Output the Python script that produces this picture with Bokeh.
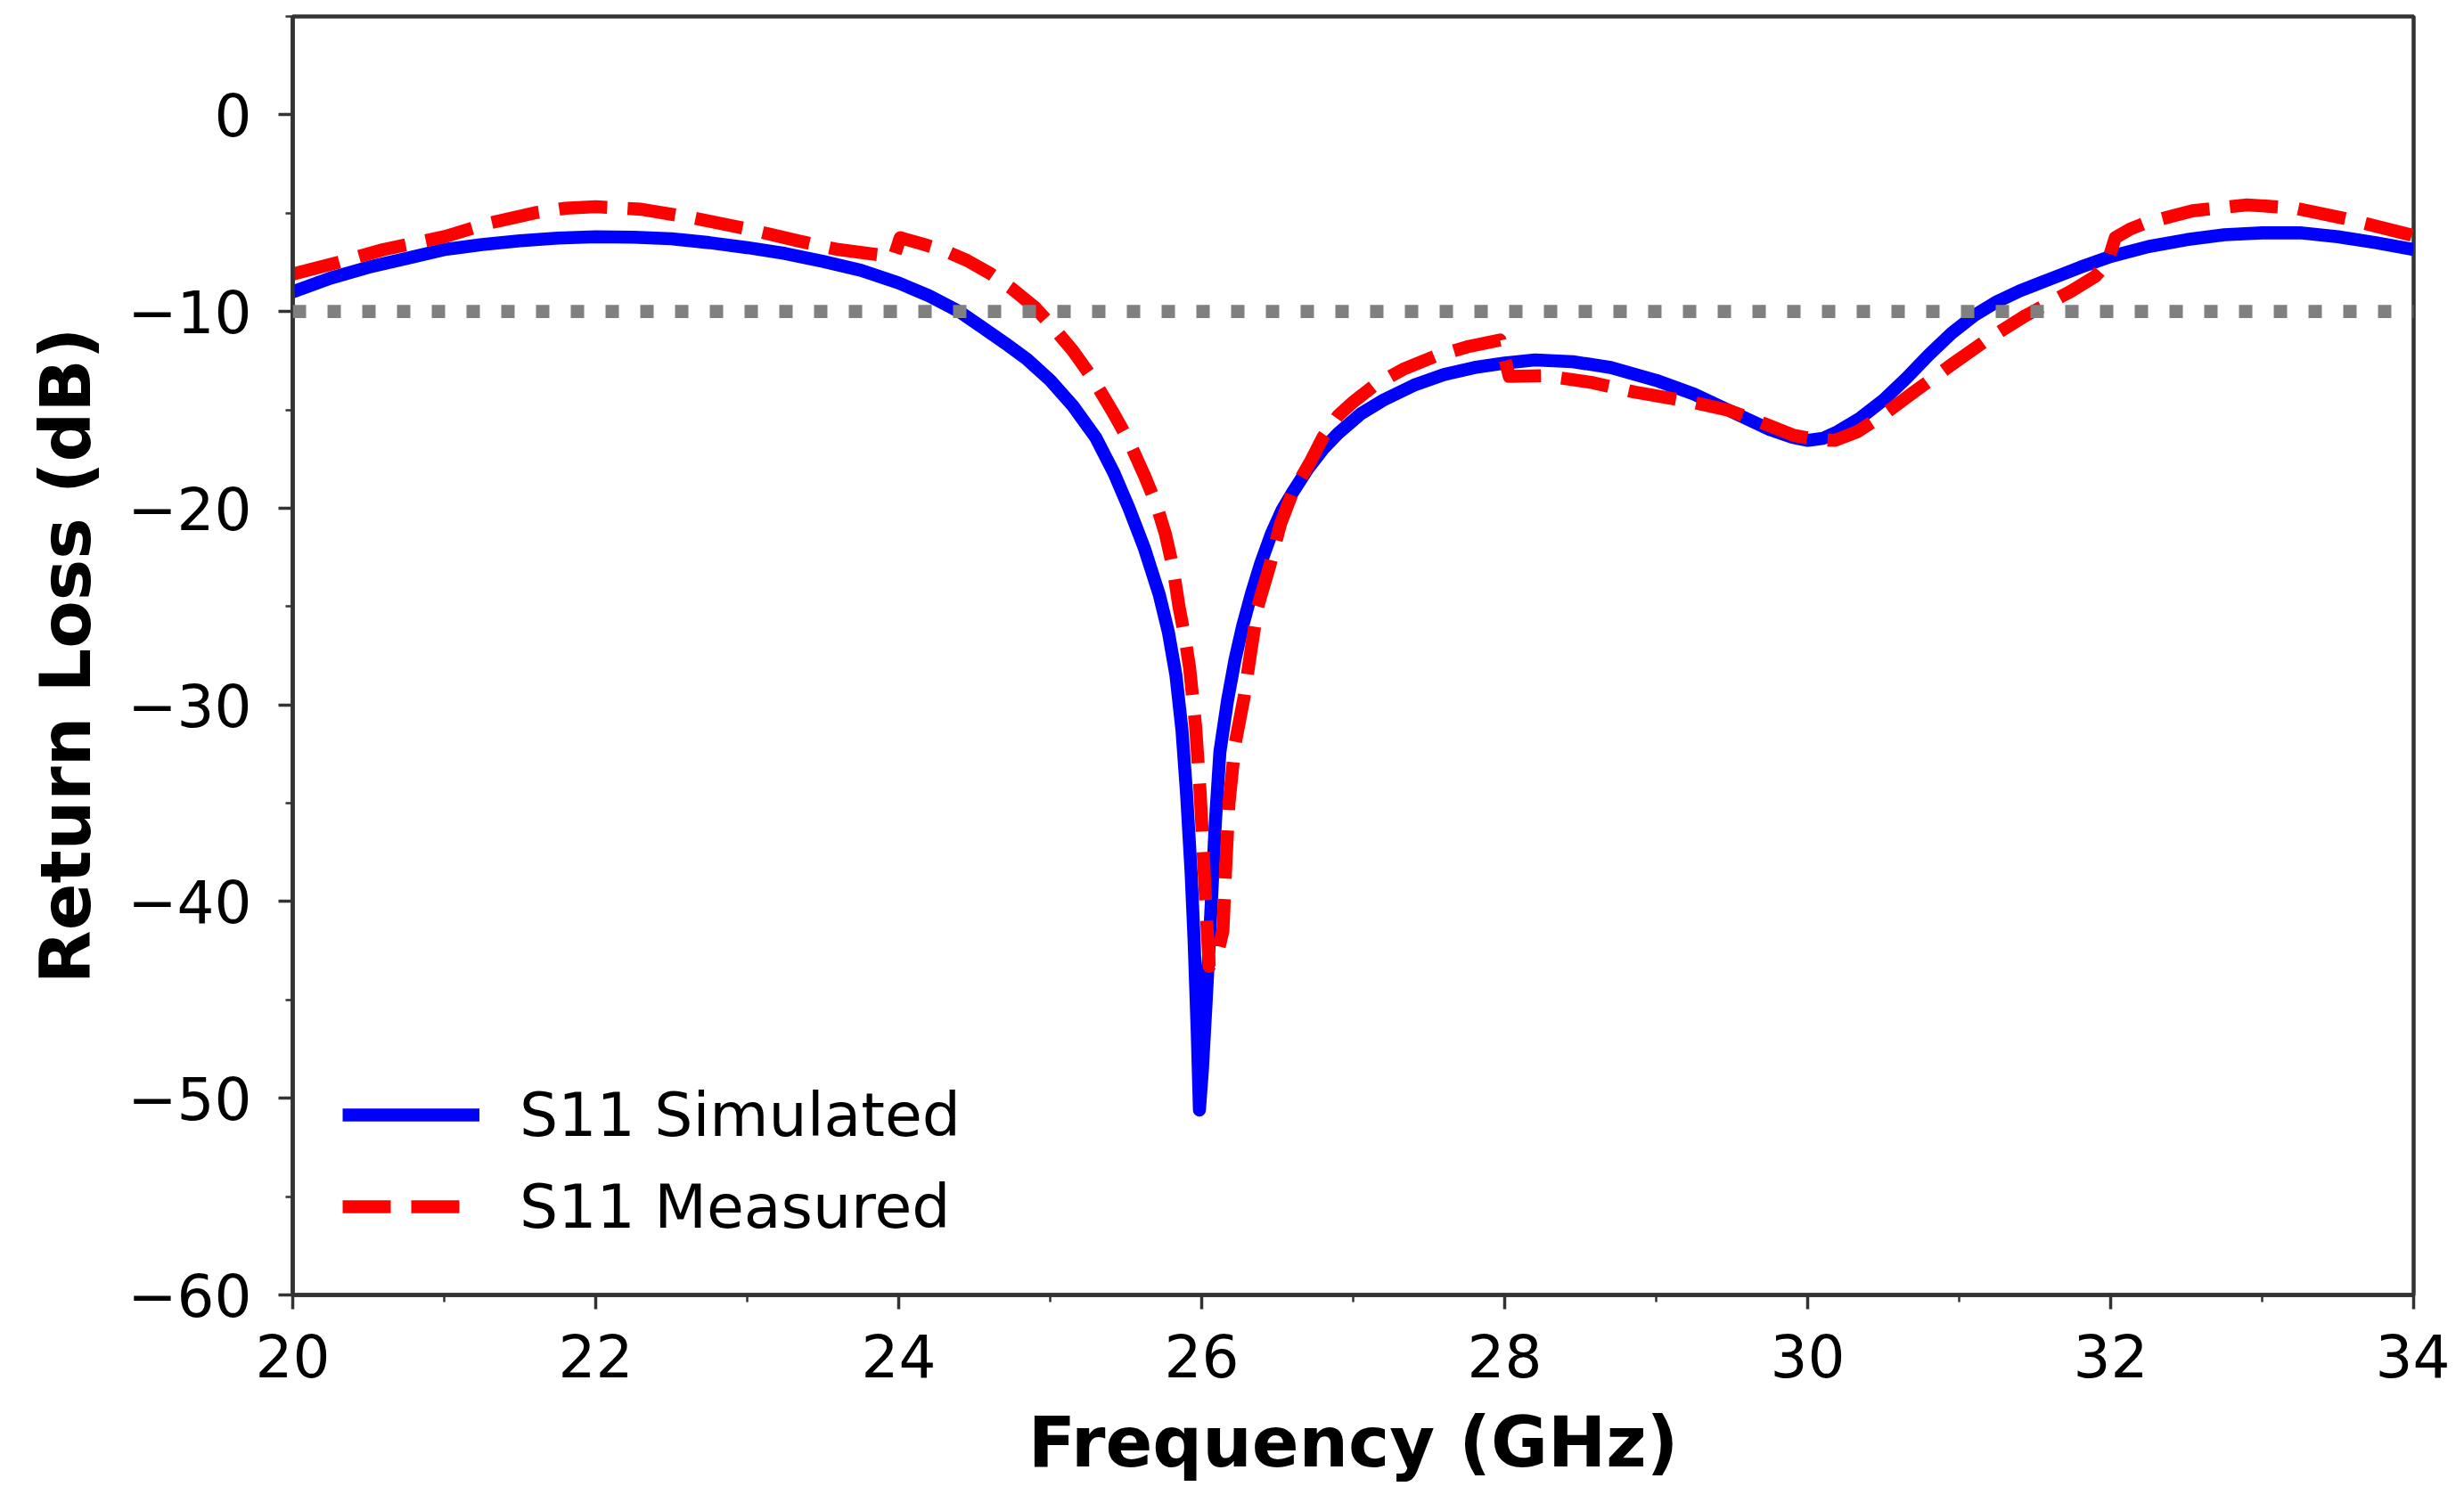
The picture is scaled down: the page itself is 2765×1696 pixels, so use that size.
from bokeh.plotting import figure
from bokeh.models import Range1d, FixedTicker, Legend, LegendItem, Span
from bokeh.embed import file_html
from bokeh.resources import INLINE

# ---------------- data ----------------
sim_freq = [20.0, 20.25, 20.5, 20.75, 21.0, 21.25, 21.5, 21.75, 22.0, 22.25,
            22.5, 22.75, 23.0, 23.25, 23.5, 23.75, 24.0, 24.2, 24.4, 24.55,
            24.7, 24.85, 25.0, 25.15, 25.3, 25.42, 25.52, 25.62, 25.72, 25.78,
            25.83, 25.87, 25.9, 25.93, 25.95, 25.97, 25.985, 26.005, 26.03, 26.06,
            26.09, 26.12, 26.17, 26.22, 26.27, 26.33, 26.39, 26.46, 26.53, 26.6,
            26.7, 26.8, 26.9, 27.05, 27.2, 27.4, 27.6, 27.8, 28.0, 28.2,
            28.45, 28.7, 29.0, 29.25, 29.5, 29.75, 29.9, 30.0, 30.1, 30.2,
            30.35, 30.5, 30.65, 30.8, 30.95, 31.1, 31.25, 31.4, 31.6, 31.8,
            32.0, 32.25, 32.5, 32.75, 33.0, 33.25, 33.5, 33.75, 34.0]
sim_s11 = [-9.0, -8.3, -7.75, -7.3, -6.85, -6.6, -6.4, -6.27, -6.2, -6.22,
           -6.3, -6.5, -6.75, -7.05, -7.45, -7.9, -8.55, -9.2, -10.0, -10.8,
           -11.6, -12.45, -13.5, -14.8, -16.4, -18.2, -20.0, -22.0, -24.4, -26.3,
           -28.5, -31.3, -34.5, -38.5, -42.0, -46.5, -50.6, -48.5, -45.0, -40.6,
           -36.0, -32.4, -29.8, -27.7, -26.0, -24.3, -22.8, -21.3, -20.1, -19.2,
           -18.0, -17.0, -16.2, -15.2, -14.5, -13.75, -13.2, -12.85, -12.62, -12.46,
           -12.55, -12.85, -13.5, -14.2, -15.1, -16.0, -16.4, -16.55, -16.45, -16.1,
           -15.4, -14.5, -13.4, -12.2, -11.1, -10.2, -9.5, -8.95, -8.35, -7.75,
           -7.2, -6.7, -6.35, -6.1, -6.0, -6.0, -6.2, -6.5, -6.85]

meas_freq = [20.0, 20.3, 20.6, 21.0, 21.3, 21.6, 21.8, 22.0, 22.3, 22.65,
             23.0, 23.33, 23.6, 23.8, 23.97, 24.01, 24.15, 24.3, 24.45, 24.6,
             24.75, 24.9, 25.03, 25.15, 25.28, 25.42, 25.52, 25.62, 25.7, 25.76,
             25.81, 25.85, 25.89, 25.92, 25.96, 25.99, 26.01, 26.03, 26.05, 26.1,
             26.14, 26.16, 26.18, 26.22, 26.28, 26.32, 26.37, 26.45, 26.52, 26.6,
             26.72, 26.8, 26.9, 27.0, 27.15, 27.34, 27.55, 27.75, 27.97, 28.03,
             28.26, 28.57, 28.86, 29.2, 29.47, 29.73, 29.91, 30.05, 30.18, 30.33,
             30.49, 30.7, 30.95, 31.19, 31.44, 31.74, 31.9, 31.98, 32.03, 32.13,
             32.23, 32.54, 32.9, 33.21, 33.58, 33.98, 34.0]
meas_s11 = [-8.1, -7.5, -6.85, -6.2, -5.5, -4.98, -4.75, -4.67, -4.8, -5.25,
            -5.8, -6.4, -6.85, -7.05, -7.2, -6.25, -6.55, -6.9, -7.4, -8.05,
            -8.85, -9.8, -10.9, -12.0, -13.4, -15.2, -16.6, -18.3, -19.8, -21.3,
            -23.0, -25.0, -26.6, -28.1, -31.1, -34.5, -37.5, -40.6, -43.3, -42.8,
            -41.5, -38.0, -35.0, -32.0, -29.6, -27.5, -25.0, -22.9, -20.8, -19.2,
            -17.6, -16.4, -15.3, -14.6, -13.7, -12.9, -12.25, -11.8, -11.45, -13.3,
            -13.26, -13.6, -14.1, -14.55, -15.0, -15.75, -16.3, -16.5, -16.55, -16.1,
            -15.3, -14.1, -12.7, -11.4, -10.2, -8.96, -8.2, -7.5, -6.25, -5.8,
            -5.5, -4.88, -4.58, -4.73, -5.33, -6.1, -6.15]

threshold_db = -10

x_major_ticks = [20, 22, 24, 26, 28, 30, 32, 34]
x_minor_ticks = [21, 23, 25, 27, 29, 31, 33]
y_major_ticks = [-60, -50, -40, -30, -20, -10, 0]
y_minor_ticks = [-55, -45, -35, -25, -15, -5, 5]

series_labels = ["S11 Simulated", "S11 Measured"]
x_label = "Frequency (GHz)"
y_label = "Return Loss (dB)"

# ---------------- figure ----------------
FONT = "DejaVu Sans"
SPINE = "#333333"

p = figure(frame_width=2380, frame_height=1435,
           min_border_left=328, min_border_right=41,
           min_border_top=18, min_border_bottom=227,
           x_range=Range1d(20, 34), y_range=Range1d(-60, 5),
           output_backend="svg", toolbar_location=None, tools="")

p.grid.visible = False
p.background_fill_color = "white"
p.border_fill_color = "white"
p.outline_line_color = SPINE
p.outline_line_width = 4.5

p.xaxis.ticker = FixedTicker(ticks=x_major_ticks, minor_ticks=x_minor_ticks)
p.yaxis.ticker = FixedTicker(ticks=y_major_ticks, minor_ticks=y_minor_ticks)
p.yaxis.major_label_overrides = {v: ("\u2212" + str(abs(v)) if v < 0 else str(v))
                                 for v in y_major_ticks}

for ax in (p.xaxis[0], p.yaxis[0]):
    ax.axis_line_color = SPINE
    ax.axis_line_width = 4.5
    ax.major_tick_line_color = SPINE
    ax.major_tick_line_width = 3.5
    ax.minor_tick_line_color = SPINE
    ax.minor_tick_line_width = 2.5
    ax.major_tick_in = 0
    ax.major_tick_out = 16
    ax.minor_tick_in = 0
    ax.minor_tick_out = 8
    ax.major_label_text_font = FONT
    ax.major_label_text_font_size = "66px"
    ax.major_label_text_color = "black"
    ax.axis_label_text_font = FONT
    ax.axis_label_text_font_size = "78px"
    ax.axis_label_text_font_style = "bold"
    ax.axis_label_text_color = "black"

p.xaxis.axis_label = x_label
p.yaxis.axis_label = y_label
p.xaxis.major_label_standoff = 27
p.yaxis.major_label_standoff = 30
p.xaxis.axis_label_standoff = 25
p.yaxis.axis_label_standoff = 21

r_sim = p.line(sim_freq, sim_s11, line_color="#0000ff", line_width=14.6,
               line_join="round")
r_meas = p.line(meas_freq, meas_s11, line_color="#ff0000", line_width=14.6,
                line_dash="54 23", line_join="round")

thr = Span(location=threshold_db, dimension="width", line_color="#808080",
           line_width=14.6, line_dash="15 24")
p.add_layout(thr)

legend = Legend(items=[LegendItem(label=series_labels[0], renderers=[r_sim]),
                       LegendItem(label=series_labels[1], renderers=[r_meas])],
                location=(56, 59), orientation="vertical",
                border_line_color=None, background_fill_alpha=0,
                padding=0, margin=0, spacing=23,
                glyph_width=154, glyph_height=80, label_height=80,
                label_standoff=45, label_text_font=FONT,
                label_text_font_size="68px", label_text_color="black")
p.add_layout(legend)

open("out.html", "w").write(file_html(p, INLINE))
